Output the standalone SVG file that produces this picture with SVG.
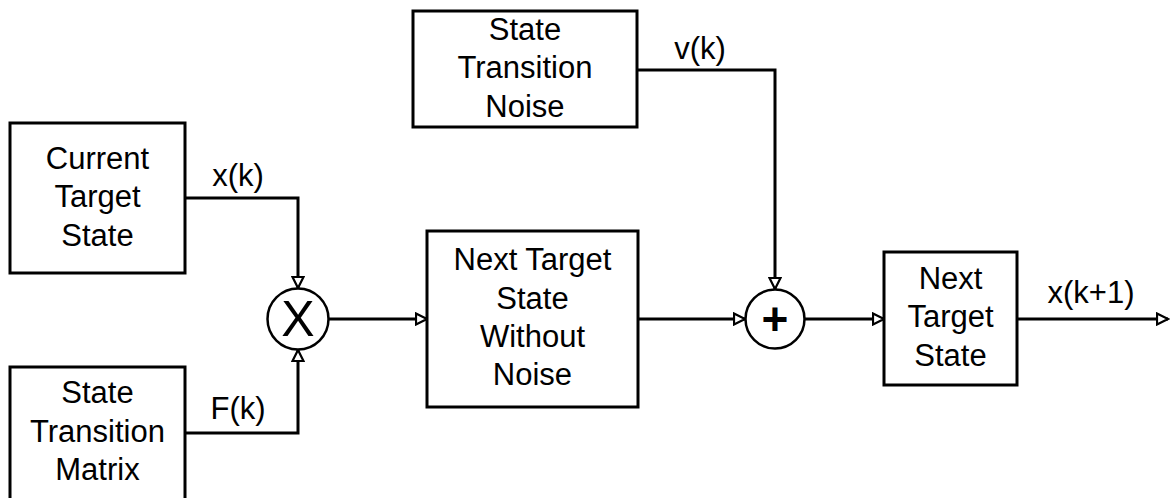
<svg xmlns="http://www.w3.org/2000/svg" width="1173" height="498" viewBox="0 0 1173 498">
<style>
.box{fill:#fff;stroke:#000;stroke-width:3}
.op{fill:#fff;stroke:#000;stroke-width:2.5}
.t{font-family:"Liberation Sans",Arial,sans-serif;font-size:31px;fill:#000;text-anchor:middle}
.w{fill:none;stroke:#000;stroke-width:3}
</style>
<defs>
<marker id="ah" viewBox="0 0 14 14" refX="12.5" refY="7" markerWidth="14" markerHeight="14" markerUnits="userSpaceOnUse" orient="auto">
<path d="M1.5,1.5 L12.5,7 L1.5,12.5 Z" fill="#fff" stroke="#000" stroke-width="2.2"/>
</marker>
</defs>
<rect width="1173" height="498" fill="#fff"/>
<g id="connectors">
<path class="w" d="M185,198 H298 V288" marker-end="url(#ah)"/>
<path class="w" d="M185,433 H298 V350" marker-end="url(#ah)"/>
<path class="w" d="M328,319 H427" marker-end="url(#ah)"/>
<path class="w" d="M637,70 H775 V289" marker-end="url(#ah)"/>
<path class="w" d="M639,319 H745" marker-end="url(#ah)"/>
<path class="w" d="M805,319 H884" marker-end="url(#ah)"/>
<path class="w" d="M1017,319 H1168" marker-end="url(#ah)"/>
<text class="t" x="238" y="186">x(k)</text>
<text class="t" x="238" y="419">F(k)</text>
<text class="t" x="700" y="59">v(k)</text>
<text class="t" x="1091" y="303">x(k+1)</text>
</g>
<g id="current">
<rect class="box" x="10" y="123" width="175" height="150"/>
<text class="t" x="97.5" y="168.5">Current</text>
<text class="t" x="97.5" y="207">Target</text>
<text class="t" x="97.5" y="245.5">State</text>
</g>
<g id="matrix">
<rect class="box" x="10" y="367" width="175" height="140"/>
<text class="t" x="97.5" y="403">State</text>
<text class="t" x="97.5" y="442">Transition</text>
<text class="t" x="97.5" y="480">Matrix</text>
</g>
<g id="noise">
<rect class="box" x="413" y="11" width="224" height="116"/>
<text class="t" x="525" y="39.5">State</text>
<text class="t" x="525" y="78">Transition</text>
<text class="t" x="525" y="116.5">Noise</text>
</g>
<g id="multiply">
<circle class="op" cx="298" cy="319" r="30.5"/>
<text class="t" x="298" y="336" style="font-size:50px">X</text>
</g>
<g id="nonoise">
<rect class="box" x="427" y="231" width="211" height="176"/>
<text class="t" x="532.5" y="270">Next Target</text>
<text class="t" x="532.5" y="309">State</text>
<text class="t" x="532.5" y="347">Without</text>
<text class="t" x="532.5" y="385">Noise</text>
</g>
<g id="sum">
<circle class="op" cx="775" cy="319" r="29.5"/>
<text class="t" x="775" y="335" style="font-size:46px;font-weight:bold">+</text>
</g>
<g id="next">
<rect class="box" x="884" y="252" width="133" height="133"/>
<text class="t" x="950.5" y="288.5">Next</text>
<text class="t" x="950.5" y="327">Target</text>
<text class="t" x="950.5" y="365.5">State</text>
</g>
</svg>
